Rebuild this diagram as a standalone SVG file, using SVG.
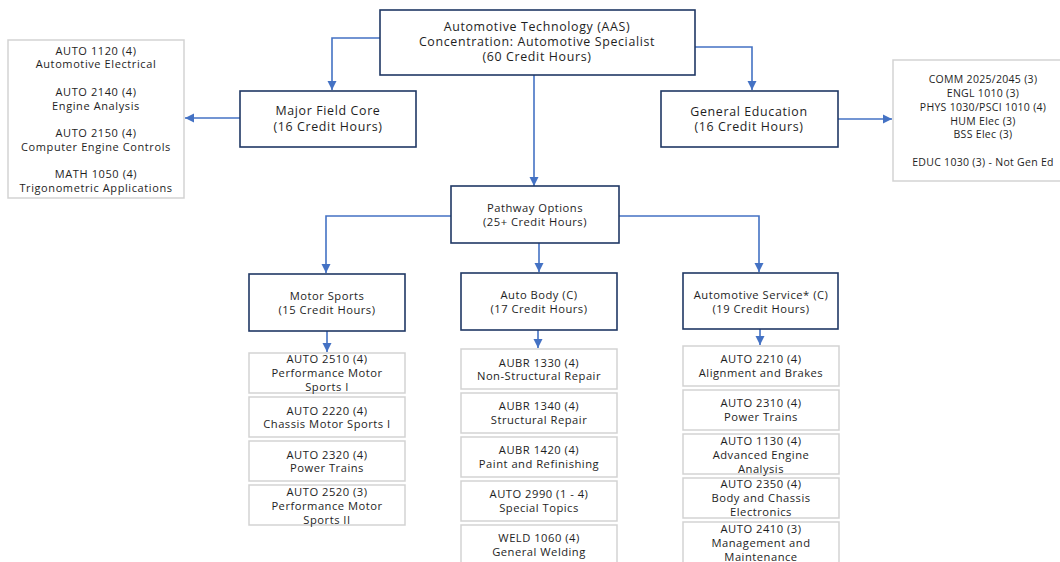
<svg xmlns="http://www.w3.org/2000/svg" width="1060" height="562" viewBox="0 0 1060 562">
<style>
.bg{fill:#ffffff}
.main{fill:#ffffff;stroke:#203864;stroke-width:1.6}
.course{fill:#ffffff;stroke:#d3d3d3;stroke-width:1.5}
.t{font-family:"Open Sans","Noto Sans",sans-serif;fill:#1e1e1e;text-anchor:middle}
.t12{font-size:12.4px;letter-spacing:0.65px}
.t11{font-size:11.2px;letter-spacing:0.5px}
.t10{font-size:11px;letter-spacing:0.6px}
.tr{font-size:10.5px;letter-spacing:0.3px}
.conn{fill:none;stroke:#4472C4;stroke-width:1.6}
</style>
<defs>
<marker id="ah" markerUnits="userSpaceOnUse" markerWidth="10" markerHeight="10" refX="9" refY="5" orient="auto">
<path d="M0,0.5 L9,5 L0,9.5 Z" fill="#4472C4"/>
</marker>
</defs>
<rect class="bg" x="0" y="0" width="1060" height="562"/>
<g id="connectors">
<path class="conn" d="M380,38 H332 V90" marker-end="url(#ah)"/>
<path class="conn" d="M695,47 H752 V90" marker-end="url(#ah)"/>
<path class="conn" d="M534,75 V186" marker-end="url(#ah)"/>
<path class="conn" d="M240,118 H185" marker-end="url(#ah)"/>
<path class="conn" d="M838,119 H892" marker-end="url(#ah)"/>
<path class="conn" d="M451,216 H326 V273" marker-end="url(#ah)"/>
<path class="conn" d="M539,243 V272" marker-end="url(#ah)"/>
<path class="conn" d="M619,216 H759 V272" marker-end="url(#ah)"/>
<path class="conn" d="M327,331 V352" marker-end="url(#ah)"/>
<path class="conn" d="M538,330 V348" marker-end="url(#ah)"/>
<path class="conn" d="M760,329 V345" marker-end="url(#ah)"/>
</g>
<g id="root">
<rect class="main" x="380" y="10" width="315" height="65"/>
<text class="t t12" x="537" y="31">Automotive Technology (AAS)</text>
<text class="t t12" x="537" y="46">Concentration: Automotive Specialist</text>
<text class="t t12" x="537" y="61">(60 Credit Hours)</text>
</g>
<g id="major-field-core">
<rect class="main" x="240" y="91" width="176" height="56"/>
<text class="t t12" x="328" y="115">Major Field Core</text>
<text class="t t12" x="328" y="131">(16 Credit Hours)</text>
</g>
<g id="major-courses">
<rect class="course" x="8" y="40" width="176" height="158"/>
<text class="t t10" x="96" y="55">AUTO 1120 (4)</text>
<text class="t t10" x="96" y="68">Automotive Electrical</text>
<text class="t t10" x="96" y="96">AUTO 2140 (4)</text>
<text class="t t10" x="96" y="110">Engine Analysis</text>
<text class="t t10" x="96" y="137">AUTO 2150 (4)</text>
<text class="t t10" x="96" y="151">Computer Engine Controls</text>
<text class="t t10" x="96" y="178">MATH 1050 (4)</text>
<text class="t t10" x="96" y="192">Trigonometric Applications</text>
</g>
<g id="general-education">
<rect class="main" x="661" y="91" width="177" height="56"/>
<text class="t t12" x="749" y="116">General Education</text>
<text class="t t12" x="749" y="131">(16 Credit Hours)</text>
</g>
<g id="gen-ed-courses">
<rect class="course" x="893" y="60" width="180" height="121"/>
<text class="t tr" x="983" y="83">COMM 2025/2045 (3)</text>
<text class="t tr" x="983" y="97">ENGL 1010 (3)</text>
<text class="t tr" x="983" y="111">PHYS 1030/PSCI 1010 (4)</text>
<text class="t tr" x="983" y="125">HUM Elec (3)</text>
<text class="t tr" x="983" y="138">BSS Elec (3)</text>
<text class="t tr" x="983" y="166">EDUC 1030 (3) - Not Gen Ed</text>
</g>
<g id="pathway-options">
<rect class="main" x="451" y="186" width="168" height="57"/>
<text class="t t11" x="535" y="212">Pathway Options</text>
<text class="t t11" x="535" y="226">(25+ Credit Hours)</text>
</g>
<g id="motor-sports">
<rect class="main" x="249" y="274" width="156" height="57"/>
<text class="t t11" x="327" y="300">Motor Sports</text>
<text class="t t11" x="327" y="314">(15 Credit Hours)</text>
</g>
<g id="auto-body">
<rect class="main" x="461" y="273" width="156" height="57"/>
<text class="t t11" x="539" y="299">Auto Body (C)</text>
<text class="t t11" x="539" y="313">(17 Credit Hours)</text>
</g>
<g id="automotive-service">
<rect class="main" x="683" y="273" width="155" height="56"/>
<text class="t t11" x="761" y="299">Automotive Service* (C)</text>
<text class="t t11" x="761" y="313">(19 Credit Hours)</text>
</g>
<g id="ms-2510">
<rect class="course" x="249" y="353" width="156" height="40"/>
<text class="t t11" x="327" y="363">AUTO 2510 (4)</text>
<text class="t t11" x="327" y="377">Performance Motor</text>
<text class="t t11" x="327" y="391">Sports I</text>
</g>
<g id="ms-2220">
<rect class="course" x="249" y="397" width="156" height="40"/>
<text class="t t11" x="327" y="415">AUTO 2220 (4)</text>
<text class="t t11" x="327" y="428">Chassis Motor Sports I</text>
</g>
<g id="ms-2320">
<rect class="course" x="249" y="441" width="156" height="40"/>
<text class="t t11" x="327" y="459">AUTO 2320 (4)</text>
<text class="t t11" x="327" y="472">Power Trains</text>
</g>
<g id="ms-2520">
<rect class="course" x="249" y="485" width="156" height="40"/>
<text class="t t11" x="327" y="496">AUTO 2520 (3)</text>
<text class="t t11" x="327" y="510">Performance Motor</text>
<text class="t t11" x="327" y="524">Sports II</text>
</g>
<g id="ab-1330">
<rect class="course" x="461" y="349" width="156" height="40"/>
<text class="t t11" x="539" y="367">AUBR 1330 (4)</text>
<text class="t t11" x="539" y="380">Non-Structural Repair</text>
</g>
<g id="ab-1340">
<rect class="course" x="461" y="393" width="156" height="40"/>
<text class="t t11" x="539" y="410">AUBR 1340 (4)</text>
<text class="t t11" x="539" y="424">Structural Repair</text>
</g>
<g id="ab-1420">
<rect class="course" x="461" y="437" width="156" height="40"/>
<text class="t t11" x="539" y="454">AUBR 1420 (4)</text>
<text class="t t11" x="539" y="468">Paint and Refinishing</text>
</g>
<g id="ab-2990">
<rect class="course" x="461" y="481" width="156" height="40"/>
<text class="t t11" x="539" y="498">AUTO 2990 (1 - 4)</text>
<text class="t t11" x="539" y="512">Special Topics</text>
</g>
<g id="ab-1060">
<rect class="course" x="461" y="525" width="156" height="42"/>
<text class="t t11" x="539" y="542">WELD 1060 (4)</text>
<text class="t t11" x="539" y="556">General Welding</text>
</g>
<g id="as-2210">
<rect class="course" x="683" y="346" width="156" height="40"/>
<text class="t t11" x="761" y="363">AUTO 2210 (4)</text>
<text class="t t11" x="761" y="377">Alignment and Brakes</text>
</g>
<g id="as-2310">
<rect class="course" x="683" y="390" width="156" height="40"/>
<text class="t t11" x="761" y="407">AUTO 2310 (4)</text>
<text class="t t11" x="761" y="421">Power Trains</text>
</g>
<g id="as-1130">
<rect class="course" x="683" y="434" width="156" height="40"/>
<text class="t t11" x="761" y="445">AUTO 1130 (4)</text>
<text class="t t11" x="761" y="459">Advanced Engine</text>
<text class="t t11" x="761" y="473">Analysis</text>
</g>
<g id="as-2350">
<rect class="course" x="683" y="478" width="156" height="40"/>
<text class="t t11" x="761" y="488">AUTO 2350 (4)</text>
<text class="t t11" x="761" y="502">Body and Chassis</text>
<text class="t t11" x="761" y="516">Electronics</text>
</g>
<g id="as-2410">
<rect class="course" x="683" y="522" width="156" height="44"/>
<text class="t t11" x="761" y="533">AUTO 2410 (3)</text>
<text class="t t11" x="761" y="547">Management and</text>
<text class="t t11" x="761" y="561">Maintenance</text>
</g>
</svg>
